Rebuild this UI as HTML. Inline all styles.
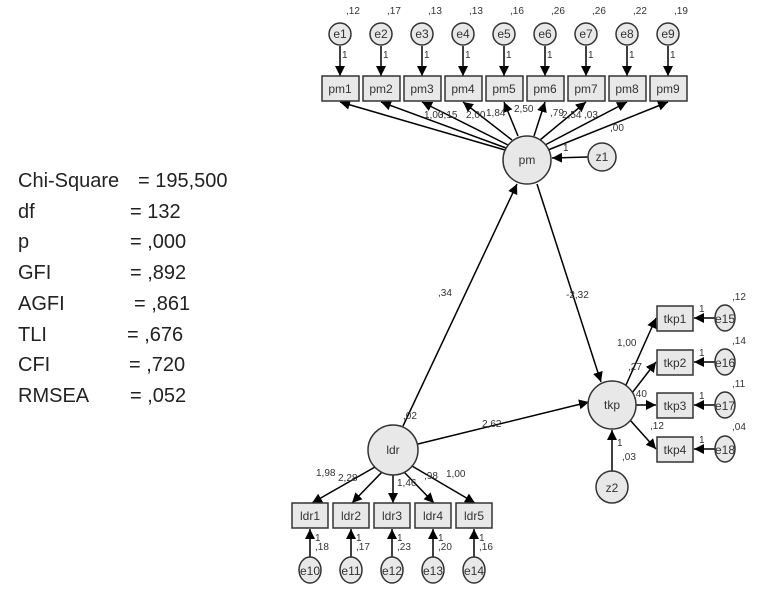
<!DOCTYPE html>
<html><head><meta charset="utf-8"><style>
html,body{margin:0;padding:0;background:#fff;}
svg{display:block;font-family:"Liberation Sans",Arial,sans-serif;}
.st{font-size:20px;fill:#222;}
.s{font-size:10px;fill:#333;}
.n{font-size:12px;fill:#333;}
</style></head><body>
<svg width="784" height="596" viewBox="0 0 784 596" xmlns="http://www.w3.org/2000/svg">
<defs><marker id="a" viewBox="0 0 10 10" refX="10" refY="5" markerWidth="7" markerHeight="7" markerUnits="userSpaceOnUse" orient="auto"><path d="M0,0L10,5L0,10z" fill="#000"/></marker>
<marker id="b" viewBox="0 0 10 10" refX="10" refY="5" markerWidth="10" markerHeight="10" markerUnits="userSpaceOnUse" orient="auto"><path d="M0,0L10,5L0,10z" fill="#000"/></marker></defs>
<g class="st">
<text x="18" y="187">Chi-Square</text><text x="138" y="187">= 195,500</text>
<text x="18" y="218">df</text><text x="130" y="218">= 132</text>
<text x="18" y="248">p</text><text x="130" y="248">= ,000</text>
<text x="18" y="279">GFI</text><text x="130" y="279">= ,892</text>
<text x="18" y="310">AGFI</text><text x="134" y="310">= ,861</text>
<text x="18" y="341">TLI</text><text x="127" y="341">= ,676</text>
<text x="18" y="371">CFI</text><text x="129" y="371">= ,720</text>
<text x="18" y="402">RMSEA</text><text x="130" y="402">= ,052</text>
</g>
<g stroke="#000" stroke-width="1.5" fill="none">
<!-- e -> pm boxes -->
<line x1="340" y1="46" x2="340" y2="76" marker-end="url(#b)"/><line x1="381" y1="46" x2="381" y2="76" marker-end="url(#b)"/><line x1="422" y1="46" x2="422" y2="76" marker-end="url(#b)"/><line x1="463" y1="46" x2="463" y2="76" marker-end="url(#b)"/><line x1="504" y1="46" x2="504" y2="76" marker-end="url(#b)"/><line x1="545" y1="46" x2="545" y2="76" marker-end="url(#b)"/><line x1="586" y1="46" x2="586" y2="76" marker-end="url(#b)"/><line x1="627" y1="46" x2="627" y2="76" marker-end="url(#b)"/><line x1="668" y1="46" x2="668" y2="76" marker-end="url(#b)"/>
<!-- pm -> boxes -->
<line x1="505" y1="150" x2="340" y2="102" marker-end="url(#b)"/><line x1="506" y1="148" x2="381" y2="102" marker-end="url(#b)"/><line x1="508" y1="145" x2="422" y2="102" marker-end="url(#b)"/><line x1="512" y1="140" x2="463" y2="102" marker-end="url(#b)"/><line x1="518" y1="136" x2="504" y2="102" marker-end="url(#b)"/><line x1="534" y1="136" x2="545" y2="102" marker-end="url(#b)"/><line x1="540" y1="140" x2="586" y2="102" marker-end="url(#b)"/><line x1="545" y1="145" x2="627" y2="102" marker-end="url(#b)"/><line x1="548" y1="150" x2="668" y2="102" marker-end="url(#b)"/>
<line x1="588" y1="157" x2="552" y2="158" marker-end="url(#b)"/>
<!-- structural -->
<line x1="403" y1="426" x2="517" y2="184" marker-end="url(#b)"/>
<line x1="537" y1="184" x2="601" y2="382" marker-end="url(#b)"/>
<line x1="418" y1="444" x2="589" y2="402" marker-end="url(#b)"/>
<line x1="612" y1="471" x2="612" y2="430" marker-end="url(#b)"/>
<!-- ldr -> boxes -->
<line x1="375" y1="467" x2="312" y2="503" marker-end="url(#b)"/><line x1="382" y1="472" x2="352" y2="503" marker-end="url(#b)"/><line x1="393" y1="475" x2="393" y2="503" marker-end="url(#b)"/><line x1="404" y1="472" x2="434" y2="503" marker-end="url(#b)"/><line x1="412" y1="466" x2="475" y2="503" marker-end="url(#b)"/>
<line x1="310" y1="557" x2="310" y2="529" marker-end="url(#b)"/><line x1="351" y1="557" x2="351" y2="529" marker-end="url(#b)"/><line x1="392" y1="557" x2="392" y2="529" marker-end="url(#b)"/><line x1="433" y1="557" x2="433" y2="529" marker-end="url(#b)"/><line x1="474" y1="557" x2="474" y2="529" marker-end="url(#b)"/>
<!-- tkp -> boxes -->
<line x1="626" y1="385" x2="656" y2="318" marker-end="url(#b)"/><line x1="632" y1="393" x2="656" y2="362" marker-end="url(#b)"/><line x1="636" y1="405" x2="656" y2="405" marker-end="url(#b)"/><line x1="630" y1="420" x2="656" y2="449" marker-end="url(#b)"/>
<line x1="715" y1="318" x2="694" y2="318" marker-end="url(#b)"/><line x1="715" y1="362" x2="694" y2="362" marker-end="url(#b)"/><line x1="715" y1="405" x2="694" y2="405" marker-end="url(#b)"/><line x1="715" y1="449" x2="694" y2="449" marker-end="url(#b)"/>
</g>
<g fill="#e8e8e8" stroke="#333" stroke-width="1.5">
<circle cx="340" cy="34" r="11"/><circle cx="381" cy="34" r="11"/><circle cx="422" cy="34" r="11"/><circle cx="463" cy="34" r="11"/><circle cx="504" cy="34" r="11"/><circle cx="545" cy="34" r="11"/><circle cx="586" cy="34" r="11"/><circle cx="627" cy="34" r="11"/><circle cx="668" cy="34" r="11"/>
<rect x="322" y="76" width="37" height="25"/><rect x="363" y="76" width="37" height="25"/><rect x="404" y="76" width="37" height="25"/><rect x="445" y="76" width="37" height="25"/><rect x="486" y="76" width="37" height="25"/><rect x="527" y="76" width="37" height="25"/><rect x="568" y="76" width="37" height="25"/><rect x="609" y="76" width="37" height="25"/><rect x="650" y="76" width="37" height="25"/>
<circle cx="527" cy="160" r="24"/><circle cx="602" cy="157" r="14"/>
<circle cx="393" cy="450" r="25"/><circle cx="612" cy="405" r="24"/><circle cx="612" cy="487" r="16"/>
<rect x="292" y="503" width="36" height="25"/><rect x="333" y="503" width="36" height="25"/><rect x="374" y="503" width="36" height="25"/><rect x="415" y="503" width="36" height="25"/><rect x="456" y="503" width="36" height="25"/>
<ellipse cx="310" cy="570" rx="11" ry="13"/><ellipse cx="351" cy="570" rx="11" ry="13"/><ellipse cx="392" cy="570" rx="11" ry="13"/><ellipse cx="433" cy="570" rx="11" ry="13"/><ellipse cx="474" cy="570" rx="11" ry="13"/>
<rect x="657" y="306" width="36" height="25"/><rect x="657" y="350" width="36" height="25"/><rect x="657" y="393" width="36" height="25"/><rect x="657" y="437" width="36" height="25"/>
<ellipse cx="725" cy="318" rx="10" ry="13"/><ellipse cx="725" cy="362" rx="10" ry="13"/><ellipse cx="725" cy="405" rx="10" ry="13"/><ellipse cx="725" cy="449" rx="10" ry="13"/>
</g>
<g class="n" text-anchor="middle">
<text x="340" y="38">e1</text><text x="381" y="38">e2</text><text x="422" y="38">e3</text><text x="463" y="38">e4</text><text x="504" y="38">e5</text><text x="545" y="38">e6</text><text x="586" y="38">e7</text><text x="627" y="38">e8</text><text x="668" y="38">e9</text>
<text x="340" y="93">pm1</text><text x="381" y="93">pm2</text><text x="422" y="93">pm3</text><text x="463" y="93">pm4</text><text x="504" y="93">pm5</text><text x="545" y="93">pm6</text><text x="586" y="93">pm7</text><text x="627" y="93">pm8</text><text x="668" y="93">pm9</text>
<text x="527" y="164">pm</text><text x="602" y="161">z1</text><text x="393" y="454">ldr</text><text x="612" y="409">tkp</text><text x="612" y="492">z2</text>
<text x="310" y="520">ldr1</text><text x="351" y="520">ldr2</text><text x="392" y="520">ldr3</text><text x="433" y="520">ldr4</text><text x="474" y="520">ldr5</text>
<text x="310" y="575">e10</text><text x="351" y="575">e11</text><text x="392" y="575">e12</text><text x="433" y="575">e13</text><text x="474" y="575">e14</text>
<text x="675" y="323">tkp1</text><text x="675" y="367">tkp2</text><text x="675" y="410">tkp3</text><text x="675" y="454">tkp4</text>
<text x="725" y="323">e15</text><text x="725" y="367">e16</text><text x="725" y="410">e17</text><text x="725" y="454">e18</text>
</g>
<g class="s">
<text x="346" y="14">,12</text><text x="387" y="14">,17</text><text x="428" y="14">,13</text><text x="469" y="14">,13</text><text x="510" y="14">,16</text><text x="551" y="14">,26</text><text x="592" y="14">,26</text><text x="633" y="14">,22</text><text x="674" y="14">,19</text>
<text x="342" y="58">1</text><text x="383" y="58">1</text><text x="424" y="58">1</text><text x="465" y="58">1</text><text x="506" y="58">1</text><text x="547" y="58">1</text><text x="588" y="58">1</text><text x="629" y="58">1</text><text x="670" y="58">1</text>
<text x="424" y="118">1,00</text><text x="438" y="118">3,15</text><text x="466" y="118">2,00</text><text x="486" y="116">1,84</text><text x="514" y="112">2,50</text><text x="550" y="116">,79</text><text x="562" y="118">2,54</text><text x="584" y="118">,03</text><text x="610" y="131">,00</text>
<text x="563" y="151">1</text>
<text x="438" y="296">,34</text><text x="566" y="298">-2,32</text><text x="482" y="427">2,62</text><text x="403" y="419">,02</text>
<text x="316" y="476">1,98</text><text x="338" y="481">2,28</text><text x="397" y="486">1,46</text><text x="424" y="479">,98</text><text x="446" y="477">1,00</text>
<text x="315" y="541">1</text><text x="315" y="550">,18</text><text x="356" y="541">1</text><text x="356" y="550">,17</text><text x="397" y="541">1</text><text x="397" y="550">,23</text><text x="438" y="541">1</text><text x="438" y="550">,20</text><text x="479" y="541">1</text><text x="479" y="550">,16</text>
<text x="617" y="346">1,00</text><text x="628" y="370">,27</text><text x="633" y="397">,40</text><text x="650" y="429">,12</text>
<text x="617" y="446">1</text><text x="622" y="460">,03</text>
<text x="699" y="312">1</text><text x="699" y="356">1</text><text x="699" y="399">1</text><text x="699" y="443">1</text>
<text x="732" y="300">,12</text><text x="732" y="344">,14</text><text x="732" y="387">,11</text><text x="732" y="430">,04</text>
</g>
</svg>
</body></html>
